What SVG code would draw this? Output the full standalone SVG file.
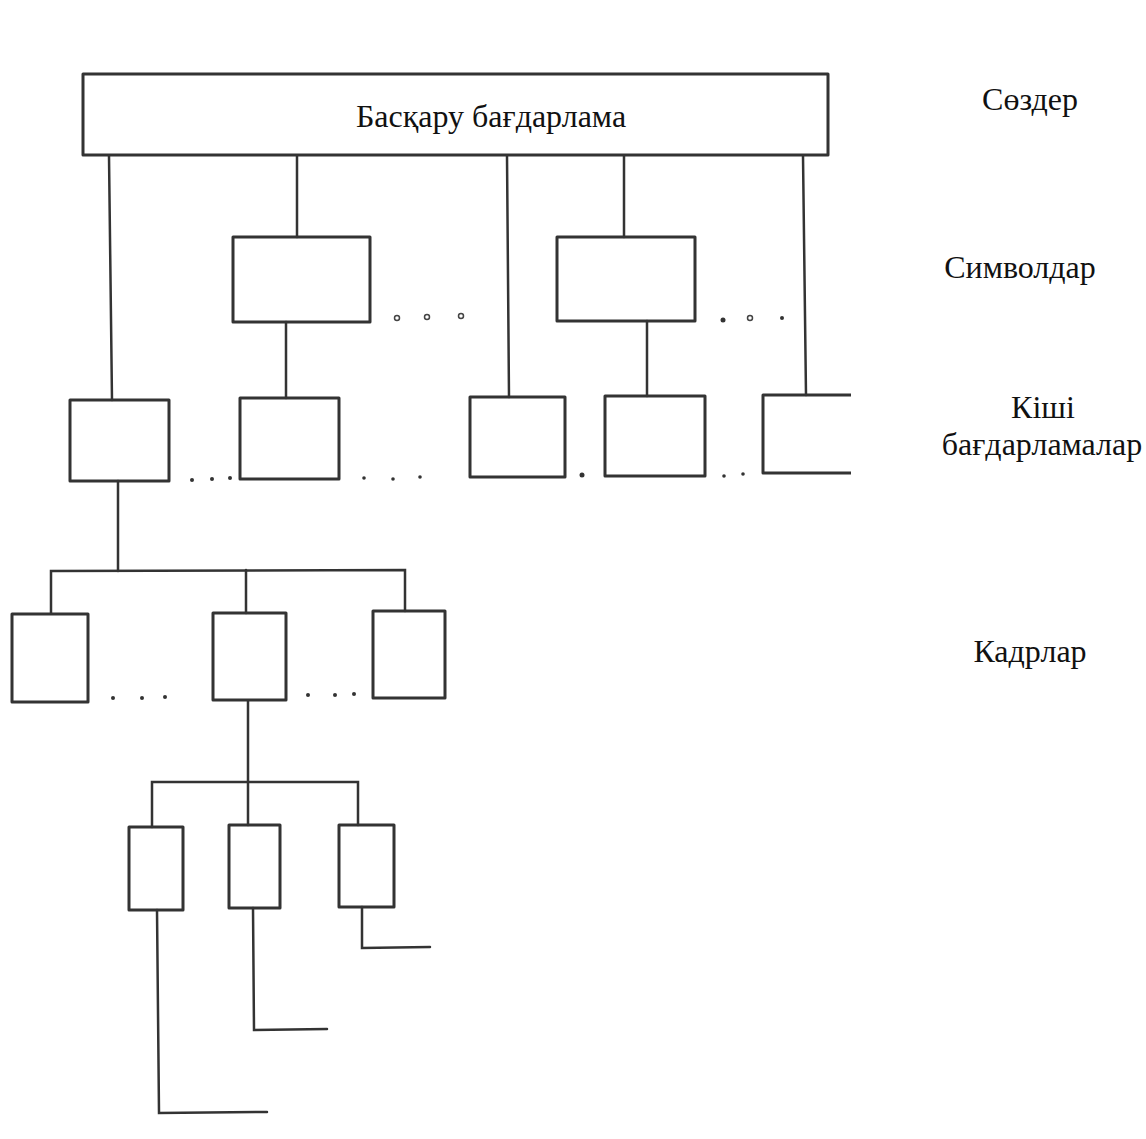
<svg xmlns="http://www.w3.org/2000/svg" width="1146" height="1139" viewBox="0 0 1146 1139">
<style>
.box{fill:none;stroke:#333;stroke-width:3;stroke-linejoin:round}
.ln{fill:none;stroke:#333;stroke-width:2.5;stroke-linecap:round}
.lbl{font-family:"Liberation Serif","Times New Roman",serif;font-size:32px;fill:#111}
.od{fill:none;stroke:#444;stroke-width:1.5}
.fd{fill:#333}
</style>
<rect width="1146" height="1139" fill="#fff"/>
<g id="connectors">
<line class="ln" x1="109" y1="156" x2="112" y2="400"/>
<line class="ln" x1="297" y1="156" x2="297" y2="237"/>
<line class="ln" x1="507" y1="156" x2="509" y2="397"/>
<line class="ln" x1="624" y1="156" x2="624" y2="237"/>
<line class="ln" x1="803" y1="156" x2="806" y2="395"/>
<line class="ln" x1="286" y1="322" x2="286" y2="398"/>
<line class="ln" x1="647" y1="321" x2="647" y2="396"/>
<line class="ln" x1="118" y1="481" x2="118" y2="571"/>
<polyline class="ln" points="51,613 51,571 405,570 405,611"/>
<line class="ln" x1="246" y1="570" x2="246" y2="613"/>
<line class="ln" x1="248" y1="701" x2="248" y2="825"/>
<polyline class="ln" points="152,827 152,782 358,782 358,825"/>
<polyline class="ln" points="157,910 159,1113 267,1112"/>
<polyline class="ln" points="253,908 254,1030 327,1029"/>
<polyline class="ln" points="362,907 362,948 430,947"/>
</g>
<g id="node-main"><rect class="box" x="83" y="74" width="745" height="81"/><text class="lbl" x="491" y="127" text-anchor="middle">Басқару бағдарлама</text></g>
<g id="node-sym1"><rect class="box" x="233" y="237" width="137" height="85"/></g>
<g id="node-sym2"><rect class="box" x="557" y="237" width="138" height="84"/></g>
<g id="node-sub1"><rect class="box" x="70" y="400" width="99" height="81"/></g>
<g id="node-sub2"><rect class="box" x="240" y="398" width="99" height="81"/></g>
<g id="node-sub3"><rect class="box" x="470" y="397" width="95" height="80"/></g>
<g id="node-sub4"><rect class="box" x="605" y="396" width="100" height="80"/></g>
<g id="node-sub5"><path class="box" d="M851,395 H763 V473 H851"/></g>
<g id="node-kadr1"><rect class="box" x="12" y="614" width="76" height="88"/></g>
<g id="node-kadr2"><rect class="box" x="213" y="613" width="73" height="87"/></g>
<g id="node-kadr3"><rect class="box" x="373" y="611" width="72" height="87"/></g>
<g id="node-b1"><rect class="box" x="129" y="827" width="54" height="83"/></g>
<g id="node-b2"><rect class="box" x="229" y="825" width="51" height="83"/></g>
<g id="node-b3"><rect class="box" x="339" y="825" width="55" height="82"/></g>
<g id="dots">
<circle class="od" cx="397" cy="318" r="2.5"/><circle class="od" cx="427" cy="317" r="2.5"/><circle class="od" cx="461" cy="316" r="2.5"/>
<circle class="fd" cx="723" cy="320" r="2.5"/><circle class="od" cx="750" cy="318" r="2.5"/><circle class="fd" cx="782" cy="318" r="2"/>
<circle class="fd" cx="192" cy="480" r="2"/><circle class="fd" cx="212" cy="479" r="2"/><circle class="fd" cx="230" cy="478" r="2"/>
<circle class="fd" cx="364" cy="478" r="1.8"/><circle class="fd" cx="393" cy="479" r="1.8"/><circle class="fd" cx="420" cy="477" r="1.8"/>
<circle class="fd" cx="582" cy="475" r="2.5"/>
<circle class="fd" cx="724" cy="476" r="1.8"/><circle class="fd" cx="743" cy="474" r="1.8"/>
<circle class="fd" cx="113" cy="698" r="2"/><circle class="fd" cx="142" cy="698" r="2"/><circle class="fd" cx="165" cy="697" r="2"/>
<circle class="fd" cx="308" cy="695" r="2"/><circle class="fd" cx="335" cy="695" r="2"/><circle class="fd" cx="354" cy="694" r="2"/>
</g>
<g id="labels">
<text class="lbl" x="1030" y="110" text-anchor="middle">Сөздер</text>
<text class="lbl" x="1020" y="278" text-anchor="middle">Символдар</text>
<text class="lbl" x="1043" y="418" text-anchor="middle">Кіші</text>
<text class="lbl" x="1042" y="455" text-anchor="middle">бағдарламалар</text>
<text class="lbl" x="1030" y="662" text-anchor="middle">Кадрлар</text>
</g>
</svg>
